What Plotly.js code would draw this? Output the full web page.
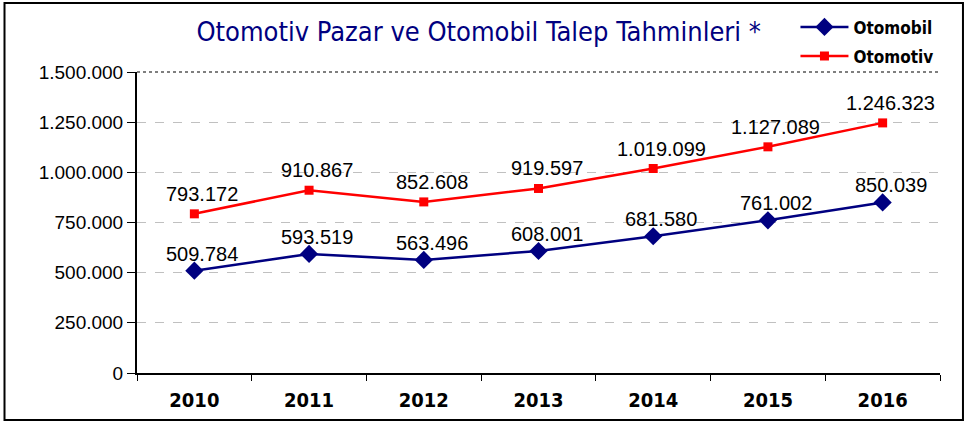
<!DOCTYPE html>
<html><head><meta charset="utf-8">
<script src="https://cdn.plot.ly/plotly-3.0.1.min.js"></script>
<style>body{margin:0;background:#fff}#c{width:967px;height:426px}</style>
</head><body><div id="c"></div>
<script>
const years = ['2010','2011','2012','2013','2014','2015','2016'];
const otomobil = [509784, 593519, 563496, 608001, 681580, 761002, 850039];
const otomotiv = [793172, 910867, 852608, 919597, 1019099, 1127089, 1246323];
const yTicks = [0, 250000, 500000, 750000, 1000000, 1250000, 1500000];

function fmt(v) { return String(v).replace(/\B(?=(\d{3})+(?!\d))/g, '.'); }

const traces = [
  {x: years, y: otomobil, name: 'Otomobil', legendgroup: 'a', type: 'scatter', mode: 'lines+markers',
   line: {color: '#000080', width: 2.5}, marker: {symbol: 'diamond', size: 14, color: '#000080'}, cliponaxis: false},
  {x: years, y: otomotiv, name: 'Otomotiv', legendgroup: 'b', type: 'scatter', mode: 'lines+markers',
   line: {color: '#ff0000', width: 2.5}, marker: {symbol: 'square', size: 9, color: '#ff0000'}, cliponaxis: false}
];
const labelFont = {family: 'Liberation Sans, Arial, sans-serif', size: 20, color: '#000000'};
const annotations = [];
[[otomobil, 17], [otomotiv, 20]].forEach(function (pair) {
  pair[0].forEach(function (v, i) {
    annotations.push({x: i, y: v, xref: 'x', yref: 'y', text: fmt(v), showarrow: false,
      xanchor: 'center', yanchor: 'middle', xshift: 8, yshift: pair[1], font: labelFont});
  });
});
const layout = {
  width: 967, height: 426,
  margin: {l: 137, r: 27, t: 72, b: 53, autoexpand: false},
  separators: ',.',
  paper_bgcolor: '#fff', plot_bgcolor: '#fff',
  showlegend: true,
  title: {text: 'Otomotiv Pazar ve Otomobil Talep Tahminleri *', x: 0.495, xanchor: 'center', y: 0.925, yanchor: 'middle',
    font: {family: 'DejaVu Sans Condensed, DejaVu Sans, sans-serif', size: 27, color: '#000080'}},
  legend: {x: 0.82, xanchor: 'left', y: 1.208, yanchor: 'top', traceorder: 'grouped', tracegroupgap: 4,
    font: {family: 'DejaVu Sans Condensed, DejaVu Sans, sans-serif', size: 17, color: '#000', weight: 'bold'},
    bgcolor: 'rgba(0,0,0,0)', itemwidth: 48},
  xaxis: {type: 'category', showline: true, linecolor: '#000', linewidth: 2, ticks: 'outside', tickson: 'boundaries',
    ticklen: 6, tickcolor: '#000', showgrid: false, range: [-0.5, 6.5], ticklabelstandoff: 8,
    tickfont: {family: 'DejaVu Sans Condensed, DejaVu Sans, sans-serif', size: 20, color: '#000', weight: 'bold'}},
  yaxis: {range: [0, 1500000], tickvals: yTicks, tickformat: ',', showline: true, linecolor: '#000', linewidth: 2,
    ticks: 'outside', ticklen: 8, tickcolor: '#000', showgrid: true, gridcolor: '#c0c0c0', griddash: 'dash', gridwidth: 1,
    zeroline: false,
    tickfont: {family: 'Liberation Sans, Arial, sans-serif', size: 19, color: '#000'}},
  annotations: annotations,
  shapes: [
    {type: 'rect', xref: 'paper', yref: 'paper', x0: -0.165, x1: 1.0286, y0: -0.156, y1: 1.229,
     line: {color: '#000', width: 2}, layer: 'below'},
    {type: 'line', xref: 'paper', yref: 'paper', x0: 0, x1: 1, y0: 1, y1: 1, line: {color: '#555', width: 1.5, dash: 'dot'}}
  ]
};
Plotly.newPlot('c', traces, layout, {displayModeBar: false, staticPlot: true});
</script></body></html>
